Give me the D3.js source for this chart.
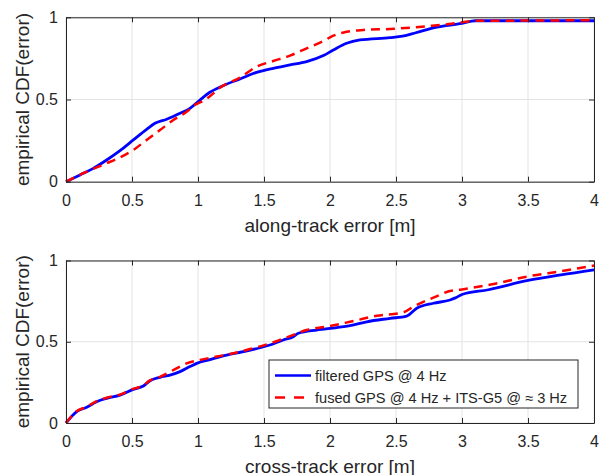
<!DOCTYPE html>
<html>
<head>
<meta charset="utf-8">
<script src="https://cdn.jsdelivr.net/npm/d3@7"></script>
<style>
  html, body { margin: 0; padding: 0; background: #fff; }
  svg { display: block; }
  text { font-family: "Liberation Sans", Arial, Helvetica, sans-serif; fill: #262626; }
</style>
</head>
<body>
<svg id="chart" width="599" height="475"></svg>
<script>
// ---- data ----
const xTicks = [0, 0.5, 1, 1.5, 2, 2.5, 3, 3.5, 4];
const xTickLabels = ["0", "0.5", "1", "1.5", "2", "2.5", "3", "3.5", "4"];
const yTicks = [0, 0.5, 1];
const yTickLabels = ["0", "0.5", "1"];
const seriesNames = ["filtered GPS @ 4 Hz", "fused GPS @ 4 Hz + ITS-G5 @ \u2248 3 Hz"];
const yLabel = "empirical CDF(error)";
const xLabels = ["along-track error [m]", "cross-track error [m]"];

// along-track
const alongFilteredX = [0,0.106,0.207,0.308,0.409,0.51,0.611,0.674,0.763,0.864,0.939,1.015,1.09,1.19,1.318,1.444,1.57,1.697,1.823,1.95,2.025,2.126,2.227,2.455,2.55,2.65,2.8,3.0,3.1,4.0];
const alongFilteredY = [0,0.041,0.081,0.132,0.189,0.254,0.319,0.355,0.38,0.416,0.446,0.497,0.544,0.584,0.625,0.665,0.69,0.71,0.73,0.767,0.801,0.842,0.862,0.876,0.885,0.906,0.939,0.963,0.979,0.979];
const alongFusedX = [0,0.157,0.308,0.409,0.51,0.611,0.712,0.813,0.914,0.977,1.04,1.19,1.318,1.444,1.57,1.697,1.823,1.95,2.025,2.126,2.253,2.455,2.75,2.9,3.0,3.1,3.5,4.0];
const alongFusedY = [0,0.061,0.112,0.148,0.193,0.254,0.314,0.375,0.426,0.467,0.491,0.584,0.633,0.70,0.734,0.767,0.811,0.856,0.888,0.912,0.923,0.929,0.947,0.959,0.97,0.979,0.98,0.983];

// cross-track
const crossFilteredX = [0,0.081,0.157,0.232,0.308,0.409,0.51,0.586,0.636,0.712,0.788,0.864,0.939,0.99,1.09,1.217,1.343,1.47,1.545,1.646,1.722,1.76,1.899,2.051,2.152,2.278,2.455,2.581,2.657,2.783,2.909,2.95,3.0,3.2,3.5,3.75,4.0];
const crossFilteredY = [0,0.07,0.097,0.131,0.152,0.172,0.207,0.228,0.26,0.281,0.295,0.316,0.347,0.367,0.39,0.418,0.439,0.463,0.48,0.511,0.531,0.552,0.572,0.587,0.599,0.623,0.644,0.658,0.706,0.737,0.757,0.77,0.791,0.82,0.877,0.912,0.943];
const crossFusedX = [0,0.081,0.157,0.232,0.308,0.409,0.51,0.586,0.636,0.712,0.813,0.914,1.015,1.268,1.394,1.545,1.722,1.823,1.975,2.152,2.354,2.556,2.631,2.783,2.909,3.0,3.25,3.5,3.75,4.0];
const crossFusedY = [0,0.072,0.1,0.134,0.155,0.175,0.21,0.232,0.262,0.284,0.326,0.367,0.388,0.429,0.455,0.49,0.542,0.572,0.593,0.623,0.66,0.681,0.716,0.771,0.812,0.822,0.857,0.902,0.934,0.969];

// ---- drawing ----
const svg = d3.select("#chart");
const W = 599, H = 475;
svg.append("rect").attr("width", W).attr("height", H).attr("fill", "#fff");

const left = 66, right = 594;
const panels = [
  { top: 17.3, bottom: 181.7, fx: alongFilteredX, fy: alongFilteredY, ux: alongFusedX, uy: alongFusedY, xl: xLabels[0], legend: false },
  { top: 260.5, bottom: 423, fx: crossFilteredX, fy: crossFilteredY, ux: crossFusedX, uy: crossFusedY, xl: xLabels[1], legend: true }
];

const axisColor = "#262626";
const gridColor = "#e3e3e3";
const blue = "#0000ff", red = "#ff0000";
const fontFam = "'Liberation Sans', Arial, sans-serif";

panels.forEach(p => {
  const x = d3.scaleLinear().domain([0, 4]).range([left, right]);
  const y = d3.scaleLinear().domain([0, 1]).range([p.bottom, p.top]);
  const g = svg.append("g");

  // grid
  g.selectAll(".gx").data(xTicks).enter().append("line")
    .attr("x1", d => x(d)).attr("x2", d => x(d))
    .attr("y1", p.top).attr("y2", p.bottom)
    .attr("stroke", gridColor).attr("stroke-width", 1);
  g.selectAll(".gy").data(yTicks).enter().append("line")
    .attr("x1", left).attr("x2", right)
    .attr("y1", d => y(d)).attr("y2", d => y(d))
    .attr("stroke", gridColor).attr("stroke-width", 1);

  // lines
  const line = d3.line().x(d => x(d[0])).y(d => y(d[1])).curve(d3.curveMonotoneX);
  const filtered = p.fx.map((v, i) => [v, p.fy[i]]);
  const fused = p.ux.map((v, i) => [v, p.uy[i]]);
  g.append("path").datum(filtered).attr("d", line)
    .attr("fill", "none").attr("stroke", blue).attr("stroke-width", 2.8)
    .attr("stroke-linejoin", "round");
  g.append("path").datum(fused).attr("d", line)
    .attr("fill", "none").attr("stroke", red).attr("stroke-width", 2.5)
    .attr("stroke-dasharray", "9,6");

  // axes (box with inward ticks)
  const tickLen = 5;
  const xAxisB = d3.axisBottom(x).tickValues(xTicks).tickFormat((d, i) => xTickLabels[i]).tickSizeInner(-tickLen).tickSizeOuter(0).tickPadding(13);
  const xAxisT = d3.axisTop(x).tickValues(xTicks).tickFormat("").tickSizeInner(-tickLen).tickSizeOuter(0);
  const yAxisL = d3.axisLeft(y).tickValues(yTicks).tickFormat((d, i) => yTickLabels[i]).tickSizeInner(-tickLen).tickSizeOuter(0).tickPadding(8);
  const yAxisR = d3.axisRight(y).tickValues(yTicks).tickFormat("").tickSizeInner(-tickLen).tickSizeOuter(0);

  const styleAxis = sel => {
    sel.selectAll("path").attr("stroke", axisColor).attr("stroke-width", 1);
    sel.selectAll("line").attr("stroke", axisColor).attr("stroke-width", 1);
    sel.selectAll("text").attr("fill", axisColor).style("font-size", "16px")
      .style("font-family", fontFam);
  };
  g.append("g").attr("transform", `translate(0,${p.bottom})`).call(xAxisB).call(styleAxis);
  g.append("g").attr("transform", `translate(0,${p.top})`).call(xAxisT).call(styleAxis);
  g.append("g").attr("transform", `translate(${left},0)`).call(yAxisL).call(styleAxis);
  g.append("g").attr("transform", `translate(${right},0)`).call(yAxisR).call(styleAxis);

  // labels
  g.append("text").attr("x", (left + right) / 2).attr("y", p.bottom + 50)
    .attr("text-anchor", "middle").style("font-size", "19px").text(p.xl);
  g.append("text")
    .attr("transform", `translate(28.5,${(p.top + p.bottom) / 2}) rotate(-90)`)
    .attr("text-anchor", "middle").style("font-size", "19px").text(yLabel);

  if (p.legend) {
    const lx = 269, ly = 360, lw = 309, lh = 48;
    const lg = g.append("g");
    lg.append("rect").attr("x", lx).attr("y", ly).attr("width", lw).attr("height", lh)
      .attr("fill", "#fff").attr("stroke", axisColor).attr("stroke-width", 1);
    const rows = [
      { name: seriesNames[0], color: blue, dash: null, yy: 375.5 },
      { name: seriesNames[1], color: red, dash: "10,9", yy: 397.5 }
    ];
    rows.forEach(r => {
      lg.append("line").attr("x1", 275).attr("x2", 311).attr("y1", r.yy).attr("y2", r.yy)
        .attr("stroke", r.color).attr("stroke-width", 2.6)
        .attr("stroke-dasharray", r.dash);
      lg.append("text").attr("x", 315).attr("y", r.yy).attr("dy", "0.35em")
        .style("font-size", "14.6px").text(r.name);
    });
  }
});
</script>
</body>
</html>
